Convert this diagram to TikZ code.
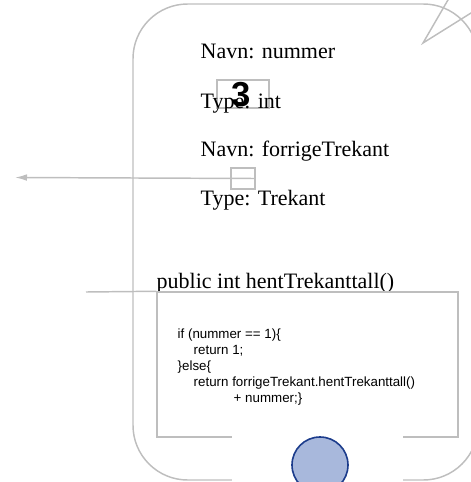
\documentclass[tikz,border=0pt]{standalone}
\usepackage{fontspec}
\setmainfont{Liberation Serif}
\newfontfamily\codefont{Liberation Sans}
\usetikzlibrary{arrows.meta}
\definecolor{lg}{RGB}{190,190,190}
\definecolor{ballfill}{RGB}{168,184,220}
\definecolor{balldraw}{RGB}{28,60,140}
\begin{document}
\begin{tikzpicture}[x=0.75pt,y=-0.75pt,line width=1.1pt,
  gline/.style={draw=lg},
  lbl/.style={anchor=base west,inner sep=0pt,font=\fontsize{16.5}{19}\selectfont},
  code/.style={anchor=base west,inner sep=0pt,font=\codefont\fontsize{10}{12}\selectfont},
  valbox/.style={draw=lg,minimum width=39pt,minimum height=21pt,inner sep=0pt},
  refbox/.style={draw=lg,minimum width=18pt,minimum height=15.75pt,inner sep=0pt},
  bodybox/.style={draw=lg,minimum width=225.75pt,minimum height=108.75pt,inner sep=0pt},
  ballst/.style={circle,draw=balldraw,fill=ballfill,line width=1.2pt,minimum size=42pt,inner sep=0pt}]
\useasboundingbox (0,0) rectangle (471,482);
\clip (0,0) rectangle (471,482);
% outer object
\draw[gline,rounded corners=41pt] (133,4) rectangle (478,480);
% top right fragment
\coordinate (sp) at (423,43);
\coordinate (sp1) at (452,-7);
\coordinate (sp2) at (487,3);
\draw[gline] (sp1) -- (sp) -- (sp2);
% fields
\node[lbl] (n1) at (200,58) {Navn: nummer};
\node[valbox] (v1) at (243,94) {};
\node[lbl] (t1) at (200,108) {Type: int};
\node[inner sep=0pt,font=\codefont\bfseries\fontsize{26}{26}\selectfont] (three) at (241,94.5) {3};
\node[lbl] (n2) at (200,156) {Navn: forrigeTrekant};
\node[refbox] (r) at (243,178.5) {};
\coordinate (tip) at (15,177.5);
\draw[draw=lg,-{Latex[length=9pt,width=5pt]}] (r.east) -- (tip);
\node[lbl] (t2) at (200,205) {Type: Trekant};
% method
\node[lbl] (m) at (156,288) {public int hentTrekanttall()};
\node[bodybox] (body) at (307.5,364.5) {};
\coordinate (lend) at (86,292);
\draw[gline] (lend) -- (body.north west);
\node[code] (c1) at (177,338) {if (nummer == 1)\{};
\node[code] (c2) at (193,354) {return 1;};
\node[code] (c3) at (177,370) {\}else\{};
\node[code] (c4) at (193,386) {return forrigeTrekant.hentTrekanttall()};
\node[code] (c5) at (233,402) {+ nummer;\}};
% mask and ball
\fill[white] (232,433) rectangle (403,482);
\node[ballst] (ball) at (320,465) {};
\end{tikzpicture}
\end{document}
